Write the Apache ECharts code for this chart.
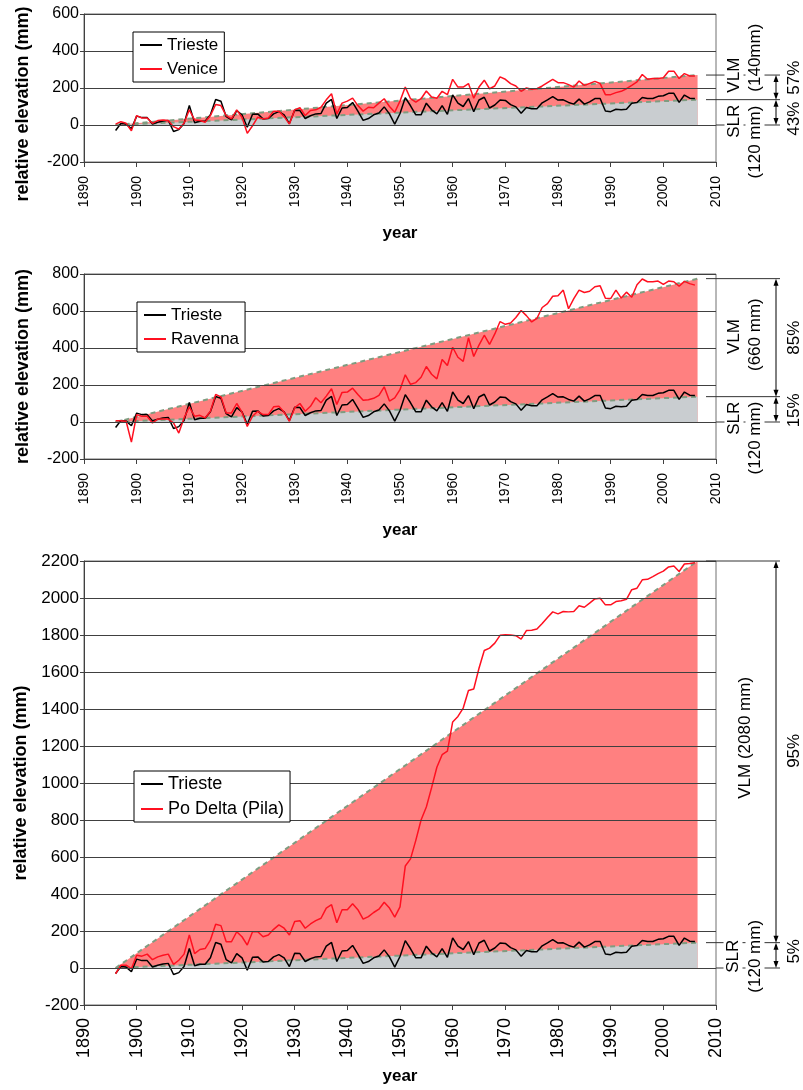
<!DOCTYPE html>
<html><head><meta charset="utf-8">
<script src="https://cdn.jsdelivr.net/npm/echarts@6/dist/echarts.min.js"></script>
<style>html,body{margin:0;padding:0;background:#fff}#c{width:803px;height:1090px}</style>
</head><body><div id="c"></div>
<script>
// ---- data (annual mean relative sea level, mm), years 1896..2006 ----
const firstYear = 1896;
const trieste = [
 -30, 8, 5, -20, 48, 40, 40, 5, 15, 22,
 25, -35, -25, 8, 105, 12, 20, 20, 55, 138,
 128, 45, 28, 78, 55, -12, 58, 60, 32, 35,
 60, 72, 55, 8, 80, 78, 35, 50, 60, 62,
 118, 138, 35, 92, 95, 122, 75, 25, 35, 55,
 65, 98, 60, 5, 62, 148, 104, 55, 55, 118,
 82, 60, 105, 58, 163, 118, 100, 143, 72, 135,
 150, 92, 108, 135, 133, 110, 98, 64, 95, 88,
 88, 120, 136, 153, 135, 136, 122, 113, 140, 113,
 125, 143, 143, 76, 72, 85, 82, 85, 118, 122,
 149, 143, 143, 155, 158, 171, 171, 122, 162, 145,
 143];
const venice = [
 5, 18, 9, -31, 51, 38, 38, 9, 24, 27,
 24, -9, -22, 9, 82, 27, 24, 15, 51, 111,
 105, 51, 33, 82, 42, -45, -4, 42, 33, 38,
 75, 75, 45, 5, 82, 93, 51, 78, 82, 96,
 136, 169, 60, 118, 129, 145, 105, 75, 96, 93,
 118, 142, 100, 69, 129, 205, 142, 124, 142, 184,
 151, 145, 182, 164, 247, 205, 205, 224, 145, 205,
 242, 196, 211, 260, 247, 224, 211, 182, 200, 193,
 196, 211, 229, 247, 229, 229, 218, 205, 238, 214,
 224, 236, 224, 164, 164, 175, 182, 196, 214, 233,
 273, 247, 251, 251, 255, 291, 291, 251, 278, 265,
 265];
const ravenna = [
 7, 7, 4, -109, 40, 31, 31, -5, 16, 16,
 16, -5, -60, 22, 82, 31, 36, 22, 58, 149,
 136, 49, 49, 100, 53, -24, 31, 58, 40, 40,
 82, 85, 53, 4, 76, 100, 58, 85, 131, 104,
 140, 180, 95, 160, 162, 183, 149, 117, 120, 128,
 144, 190, 113, 130, 175, 255, 204, 213, 242, 300,
 258, 233, 338, 305, 404, 350, 328, 455, 354, 416,
 469, 419, 476, 543, 528, 535, 565, 603, 575, 541,
 560, 619, 640, 680, 682, 713, 612, 667, 713, 700,
 707, 731, 736, 669, 667, 713, 670, 702, 674, 742,
 773, 758, 758, 762, 744, 762, 758, 734, 760, 748,
 740];
const poDelta = [
 -31, 15, 15, -4, 69, 64, 75, 45, 60, 69,
 75, 20, 42, 75, 178, 78, 100, 105, 151, 236,
 229, 142, 142, 196, 169, 124, 196, 196, 169, 178,
 209, 233, 215, 178, 251, 256, 215, 238, 256, 269,
 324, 342, 245, 315, 315, 347, 315, 264, 278, 300,
 318, 355, 324, 275, 330, 551, 590, 690, 800, 870,
 975, 1085, 1153, 1172, 1330, 1360, 1405, 1500, 1508, 1620,
 1716, 1729, 1756, 1798, 1801, 1800, 1796, 1778, 1824, 1826,
 1832, 1862, 1895, 1925, 1914, 1927, 1925, 1927, 1958, 1950,
 1972, 1995, 1999, 1963, 1963, 1981, 1985, 1993, 2045, 2053,
 2098, 2101, 2116, 2132, 2145, 2168, 2173, 2143, 2184, 2187,
 2191];
// linear trends (start/end)
const trendYears = [1896, 2006.5];
const triesteTrend = [0, 137];
const veniceTrend = [0, 270];
const ravennaTrend = [0, 775];
const poTrend = [0, 2200];
// axes
const xRange = [1890, 2010, 10];
const yRanges = [[-200, 600], [-200, 800], [-200, 2200]];
const yStep = 200;

const FONT = 'Liberation Sans, Arial, Helvetica, sans-serif';
const pairs = vals => vals.map((v, i) => [firstYear + i, v]);
const trendPairs = t => trendYears.map((y, i) => [y, t[i]]);

const panels = [
 {name:'Venice', values:venice, trend:veniceTrend, top:14, height:148, legend:[133,32], legendGap:4, legendFont:17,
  tickFont:16, xFont:14, xMargin:14, namePad:[0,32,0,0],
  ann:[
   {t:'VLM', dx:18, ref:'S', dy:-5, align:'left'},
   {t:'(140mm)', dx:39, ref:'S', dy:-6, align:'left'},
   {t:'SLR', dx:18, ref:'S', dy:3, align:'right'},
   {t:'(120 mm)', dx:39, ref:'S', dy:4, align:'right'},
   {t:'57%', dx:78, ref:'S', dy:-22, align:'center'},
   {t:'43%', dx:78, ref:'S', dy:19, align:'center'}]},
 {name:'Ravenna', values:ravenna, trend:ravennaTrend, top:274, height:185, legend:[137,302], legendGap:4, legendFont:17,
  tickFont:16, xFont:14, xMargin:14, namePad:[0,0,0,0],
  ann:[
   {t:'VLM', dx:18, ref:'m1', dy:-1, align:'center'},
   {t:'(660 mm)', dx:39, ref:'m1', dy:-3, align:'center'},
   {t:'SLR', dx:18, ref:'S', dy:3, align:'right'},
   {t:'(120 mm)', dx:39, ref:'S', dy:3, align:'right'},
   {t:'85%', dx:78, ref:'m1', dy:0, align:'center'},
   {t:'15%', dx:78, ref:'m2', dy:1, align:'center'}]},
 {name:'Po Delta (Pila)', values:poDelta, trend:poTrend, top:561, height:444, legend:[134,771], legendGap:5, legendFont:18,
  tickFont:17, xFont:18, xMargin:13, namePad:[0,0,0,0],
  ann:[
   {t:'VLM (2080 mm)', dx:29, ref:'m1', dy:-14, align:'center'},
   {t:'SLR', dx:17, ref:'m2', dy:1, align:'center'},
   {t:'(120 mm)', dx:39, ref:'m2', dy:1, align:'center'},
   {t:'95%', dx:78, ref:'m1', dy:-1, align:'center'},
   {t:'5%', dx:78, ref:'m2', dy:-4, align:'center'}]}
];

const grids=[], xAxes=[], yAxes=[], series=[], legends=[];
const AX = '#404040';
panels.forEach((p, i) => {
  grids.push({left:84, width:632, top:p.top, height:p.height, show:true, borderColor:'#707070', borderWidth:1});
  xAxes.push({gridIndex:i, type:'value', min:xRange[0], max:xRange[1], interval:xRange[2],
    axisLine:{show:true, onZero:false, lineStyle:{color:AX}},
    axisTick:{show:true, length:5, lineStyle:{color:AX}},
    splitLine:{show:false},
    axisLabel:{rotate:90, fontSize:p.xFont, margin:p.xMargin, color:'#000', fontFamily:FONT,
      showMinLabel:true, showMaxLabel:true, formatter:v => String(v)},
    name:'year', nameLocation:'middle', nameGap:63,
    nameTextStyle:{fontSize:17, fontWeight:'bold', color:'#000', fontFamily:FONT}});
  yAxes.push({gridIndex:i, type:'value', min:yRanges[i][0], max:yRanges[i][1], interval:yStep, z:5,
    axisLine:{show:true, lineStyle:{color:AX}},
    axisTick:{show:true, length:4, lineStyle:{color:AX}},
    splitLine:{show:true, lineStyle:{color:AX, width:1}},
    axisLabel:{fontSize:p.tickFont, margin:5, color:'#000', fontFamily:FONT, formatter:v => String(v)},
    name:'relative elevation (mm)', nameLocation:'middle', nameRotate:90, nameGap:52,
    nameTextStyle:{fontSize:18, fontWeight:'bold', color:'#000', fontFamily:FONT, padding:p.namePad}});
  series.push({type:'line', name:'vlm'+i, xAxisIndex:i, yAxisIndex:i, data:trendPairs(p.trend), symbol:'none', silent:true,
    lineStyle:{color:'#7f9c80', width:2, type:[5,4]}, areaStyle:{color:'#ff8080', opacity:1}, z:1});
  series.push({type:'line', name:'slr'+i, xAxisIndex:i, yAxisIndex:i, data:trendPairs(triesteTrend), symbol:'none', silent:true,
    lineStyle:{color:'#7f9c80', width:2, type:[5,4]}, areaStyle:{color:'#c9cdd0', opacity:1}, z:1});
  series.push({type:'line', name:'Trieste', xAxisIndex:i, yAxisIndex:i, data:pairs(trieste), symbol:'none',
    lineStyle:{color:'#000', width:1.5}, itemStyle:{color:'#000'}, z:3});
  series.push({type:'line', name:p.name, xAxisIndex:i, yAxisIndex:i, data:pairs(p.values), symbol:'none',
    lineStyle:{color:'#ff1020', width:1.5}, itemStyle:{color:'#ff1020'}, z:3});
  legends.push({orient:'vertical', left:p.legend[0], top:p.legend[1], data:['Trieste', p.name],
    icon:'rect', itemWidth:22, itemHeight:2, itemGap:p.legendGap, padding:[3,6,3,7],
    backgroundColor:'#fff', borderColor:'#000', borderWidth:1, borderRadius:0, z:10, selectedMode:false,
    textStyle:{fontSize:p.legendFont, color:'#000', fontFamily:FONT, lineHeight:20}});
});

const chart = echarts.init(document.getElementById('c'), null, {renderer:'canvas'});
chart.setOption({animation:false, backgroundColor:'#fff', textStyle:{fontFamily:FONT},
  grid:grids, xAxis:xAxes, yAxis:yAxes, series:series, legend:legends});

// ---- right-hand annotations (positions from the axes' scales) ----
const els = [];
const LC = '#333';
panels.forEach((p, i) => {
  const pt = v => chart.convertToPixel({gridIndex:i}, [xRange[1], v]);
  const xR = pt(0)[0];
  const y0 = pt(0)[1], yS = pt(triesteTrend[1])[1], yV = pt(p.trend[1])[1];
  const refs = {S:yS, m1:(yV + yS) / 2, m2:(yS + y0) / 2};
  const xA = xR + 60;
  [[yV, xR - 10], [yS, xR - 10], [y0, xR]].forEach(([y, x1]) => {
    els.push({type:'line', silent:true, z:20, shape:{x1:x1, y1:y, x2:xR + 64, y2:y}, style:{stroke:LC, lineWidth:1}});
  });
  p.ann.forEach(a => {
    els.push({type:'text', silent:true, z:21, x:xR + a.dx, y:refs[a.ref] + a.dy, rotation:Math.PI / 2,
      style:{text:a.t, font:'17px ' + FONT, fill:'#000', align:a.align, verticalAlign:'middle',
        backgroundColor:'#fff', padding:[1, 2]}});
  });
  [[yV, yS], [yS, y0]].forEach(([ya, yb]) => {
    els.push({type:'line', silent:true, z:22, shape:{x1:xA, y1:ya + 3, x2:xA, y2:yb - 3}, style:{stroke:'#000', lineWidth:1}});
    els.push({type:'polygon', silent:true, z:22, shape:{points:[[xA, ya], [xA - 2.5, ya + 7], [xA + 2.5, ya + 7]]}, style:{fill:'#000'}});
    els.push({type:'polygon', silent:true, z:22, shape:{points:[[xA, yb], [xA - 2.5, yb - 7], [xA + 2.5, yb - 7]]}, style:{fill:'#000'}});
  });
});
chart.setOption({graphic:els});
</script>
</body></html>
